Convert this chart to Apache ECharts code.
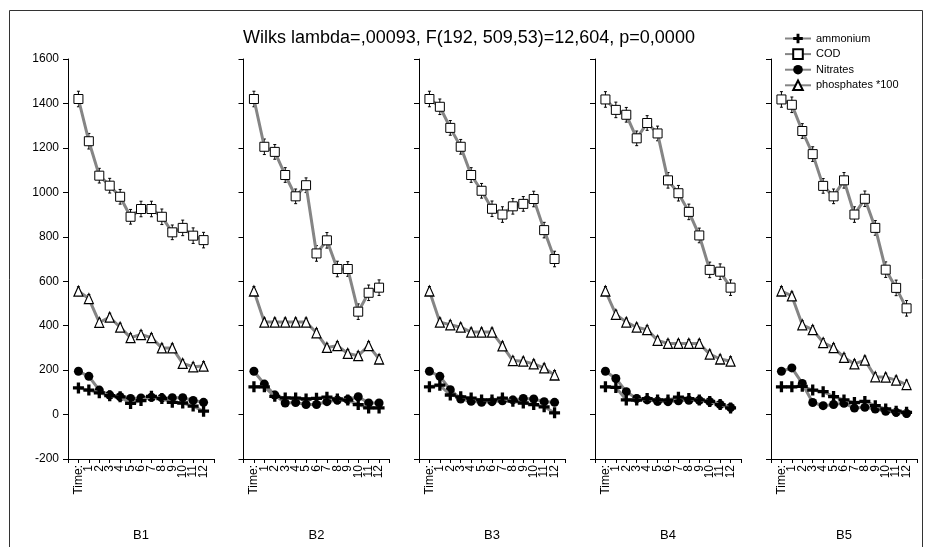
<!DOCTYPE html>
<html>
<head>
<meta charset="utf-8">
<script src="https://cdn.jsdelivr.net/npm/echarts@6/dist/echarts.min.js"></script>
<style>
html,body{margin:0;padding:0;background:#fff;}
#chart{width:925px;height:547px;}
</style>
</head>
<body>
<div id="chart"></div>
<script>
// ---- data ----
const categories = ['Time:', '1', '2', '3', '4', '5', '6', '7', '8', '9', '10', '11', '12'];
const panels = ['B1', 'B2', 'B3', 'B4', 'B5'];
const seriesNames = ['ammonium', 'COD', 'Nitrates', 'phosphates *100'];
const titleText = 'Wilks lambda=,00093, F(192, 509,53)=12,604, p=0,0000';

const ammonium = [
  [120, 110, 98, 85, 80, 50, 63, 82, 72, 55, 52, 38, 15],
  [125, 125, 82, 75, 74, 70, 73, 78, 70, 65, 45, 30, 30],
  [125, 132, 88, 80, 74, 66, 66, 74, 60, 52, 45, 35, 8],
  [125, 122, 66, 65, 72, 66, 65, 78, 72, 66, 59, 45, 30],
  [125, 125, 127, 110, 103, 81, 66, 54, 59, 40, 25, 15, 10]
];
const cod = [
  [1420, 1230, 1075, 1030, 980, 890, 925, 925, 890, 820, 840, 805, 785],
  [1420, 1205, 1182, 1078, 982, 1032, 725, 784, 655, 655, 463, 548, 571],
  [1420, 1385, 1290, 1205, 1078, 1007, 926, 900, 937, 948, 970, 830, 700],
  [1418, 1371, 1349, 1243, 1312, 1265, 1054, 996, 912, 806, 651, 643, 571],
  [1418, 1394, 1276, 1172, 1029, 982, 1054, 900, 971, 840, 652, 570, 478]
];
const nitrates = [
  [195, 172, 110, 88, 80, 72, 75, 78, 75, 76, 76, 63, 55],
  [195, 137, 88, 52, 54, 45, 45, 58, 65, 68, 80, 52, 52],
  [195, 172, 112, 70, 60, 55, 58, 62, 66, 72, 70, 58, 55],
  [195, 162, 103, 72, 66, 60, 58, 62, 64, 64, 58, 45, 32],
  [195, 210, 140, 54, 40, 45, 51, 29, 33, 25, 15, 10, 5]
];
const phosphates = [
  [555, 522, 415, 438, 393, 346, 360, 346, 300, 300, 230, 215, 218],
  [556, 416, 416, 416, 416, 416, 368, 302, 310, 275, 265, 310, 250],
  [556, 416, 404, 393, 371, 371, 371, 309, 243, 240, 228, 210, 178],
  [556, 451, 416, 393, 382, 334, 320, 320, 320, 320, 272, 250, 240],
  [556, 534, 404, 382, 324, 301, 257, 228, 245, 170, 168, 155, 135]
];
// half-widths of the whiskers
const codErr = [35, 35, 33, 33, 33, 33, 35, 35, 35, 33, 35, 35, 35];
const phosErr = [20, 18, 18, 18, 18, 18, 18, 18, 18, 18, 18, 18, 20];

// ---- layout ----
const FONT = 'Liberation Sans, Arial, sans-serif';
const gridLefts = [68, 243.5, 419, 595, 771];
const gridWidth = 146;
const gridTop = 59;
const gridHeight = 408;
const lineGray = '#858585';
const plusPath = 'path://M3.5,0h3v3.5h3.5v3h-3.5v3.5h-3v-3.5h-3.5v-3h3.5z';

const chart = echarts.init(document.getElementById('chart'), null, {renderer: 'canvas'});

const grids = [], xAxes = [], yAxes = [], series = [];

function errorSeries(i, values, errs) {
  return {
    type: 'custom',
    xAxisIndex: i, yAxisIndex: i,
    silent: true,
    z: 1,
    data: values.map((v, k) => [k, v - errs[k], v + errs[k]]),
    renderItem: function (params, api) {
      const lo = api.coord([api.value(0), api.value(1)]);
      const hi = api.coord([api.value(0), api.value(2)]);
      return {
        type: 'group',
        children: [
          {type: 'line', shape: {x1: lo[0], y1: lo[1], x2: hi[0], y2: hi[1]}, style: {stroke: '#000', lineWidth: 1}},
          {type: 'line', shape: {x1: lo[0] - 1.5, y1: lo[1], x2: lo[0] + 1.5, y2: lo[1]}, style: {stroke: '#000', lineWidth: 1}},
          {type: 'line', shape: {x1: hi[0] - 1.5, y1: hi[1], x2: hi[0] + 1.5, y2: hi[1]}, style: {stroke: '#000', lineWidth: 1}}
        ]
      };
    }
  };
}

panels.forEach((p, i) => {
  grids.push({left: gridLefts[i], top: gridTop, width: gridWidth, height: gridHeight, containLabel: false});
  xAxes.push({
    gridIndex: i, type: 'value', min: -1, max: 13, interval: 1,
    name: p, nameLocation: 'middle', nameGap: 70,
    nameTextStyle: {fontFamily: FONT, fontSize: 13, color: '#000'},
    axisLine: {show: true, onZero: false, lineStyle: {color: '#000', width: 1}},
    axisTick: {show: true, length: 4, lineStyle: {color: '#000'}},
    splitLine: {show: false},
    axisLabel: {
      rotate: 90, margin: 6, fontFamily: FONT, fontSize: 12, color: '#000',
      padding: [0, 0, 8, 0],
      showMinLabel: true, showMaxLabel: true,
      formatter: function (v) { return (v >= 0 && v <= 12) ? categories[v] : ''; }
    }
  });
  yAxes.push({
    gridIndex: i, type: 'value', min: -200, max: 1600, interval: 200,
    axisLine: {show: true, onZero: false, lineStyle: {color: '#000', width: 1}},
    axisTick: {show: true, length: 5, lineStyle: {color: '#000'}},
    splitLine: {show: false},
    axisLabel: {show: i === 0, margin: 9, fontFamily: FONT, fontSize: 12, color: '#000',
      formatter: function (v) { return String(v); }}
  });

  series.push(errorSeries(i, cod[i], codErr));
  series.push(errorSeries(i, phosphates[i], phosErr));

  series.push({
    type: 'line', name: seriesNames[0], xAxisIndex: i, yAxisIndex: i,
    data: ammonium[i].map((v, k) => [k, v]),
    symbol: plusPath, symbolSize: 11, symbolKeepAspect: true,
    itemStyle: {color: '#000'},
    lineStyle: {color: lineGray, width: 3},
    z: 4, animation: false
  });
  series.push({
    type: 'line', name: seriesNames[1], xAxisIndex: i, yAxisIndex: i,
    data: cod[i].map((v, k) => [k, v]),
    symbol: 'rect', symbolSize: 9,
    itemStyle: {color: '#fff', borderColor: '#000', borderWidth: 1},
    lineStyle: {color: lineGray, width: 3},
    z: 3, animation: false
  });
  series.push({
    type: 'line', name: seriesNames[2], xAxisIndex: i, yAxisIndex: i,
    data: nitrates[i].map((v, k) => [k, v]),
    symbol: 'circle', symbolSize: 9,
    itemStyle: {color: '#000', borderColor: '#000', borderWidth: 0},
    lineStyle: {color: lineGray, width: 3},
    z: 3, animation: false
  });
  series.push({
    type: 'line', name: seriesNames[3], xAxisIndex: i, yAxisIndex: i,
    data: phosphates[i].map((v, k) => [k, v]),
    symbol: 'triangle', symbolSize: [9, 10],
    itemStyle: {color: '#fff', borderColor: '#000', borderWidth: 1.2},
    lineStyle: {color: lineGray, width: 3},
    z: 3, animation: false
  });
});

chart.setOption({
  animation: false,
  backgroundColor: '#fff',
  title: {
    text: titleText, left: 464, top: 24, textAlign: 'center',
    textStyle: {fontFamily: FONT, fontSize: 18, fontWeight: 'normal', color: '#000'}
  },
  legend: {
    data: seriesNames, orient: 'vertical', left: 779, top: 28,
    itemWidth: 26, itemHeight: 12, itemGap: 4.3,
    textStyle: {fontFamily: FONT, fontSize: 11, color: '#000'},
    selectedMode: false
  },
  graphic: [{
    type: 'rect', silent: true,
    shape: {x: 9.5, y: 10.5, width: 913, height: 545},
    style: {fill: 'none', stroke: '#333', lineWidth: 1}
  }],
  grid: grids, xAxis: xAxes, yAxis: yAxes, series: series
});
</script>
</body>
</html>
